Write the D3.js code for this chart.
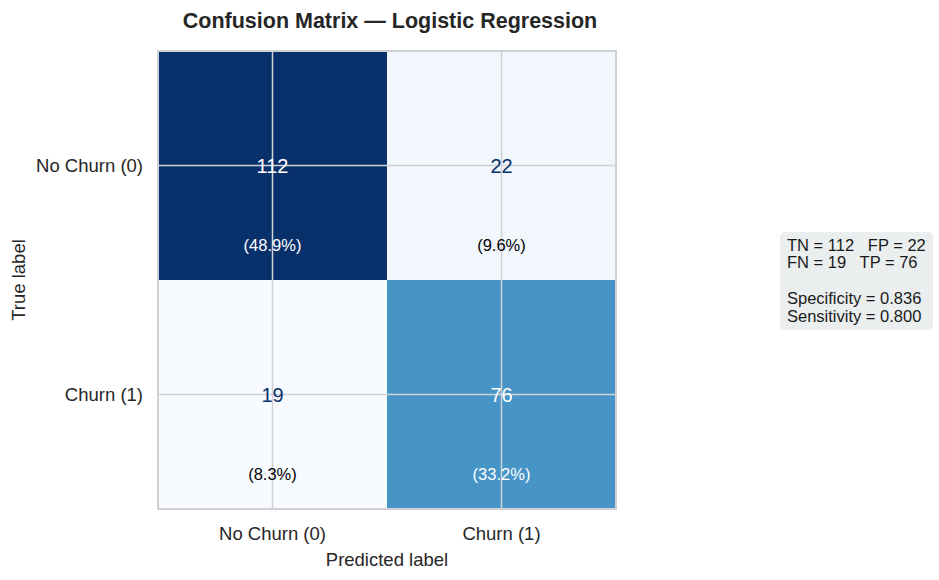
<!DOCTYPE html>
<html>
<head>
<meta charset="utf-8">
<script src="https://cdn.jsdelivr.net/npm/d3@7"></script>
<style>
  body { margin: 0; background: #fff; }
  svg { font-family: "Liberation Sans", Arial, sans-serif; }
</style>
</head>
<body>
<svg width="939" height="580"></svg>
<script>
// confusion matrix data
const classLabels = ["No Churn (0)", "Churn (1)"];
const counts = [
  [112, 22],
  [19, 76]
];
const percents = [
  ["48.9%", "9.6%"],
  ["8.3%", "33.2%"]
];
const statLines = [
  "TN = 112   FP = 22",
  "FN = 19   TP = 76",
  "",
  "Specificity = 0.836",
  "Sensitivity = 0.800"
];

const width = 939;
const height = 580;
const svg = d3.select("svg");

// plot area
const plotLeft = 158, plotTop = 51, size = 458;

const x = d3.scaleBand().domain([0, 1]).range([plotLeft, plotLeft + size]);
const y = d3.scaleBand().domain([0, 1]).range([plotTop, plotTop + size]);

const flat = [];
counts.forEach((row, i) => row.forEach((v, j) => flat.push({i, j, v, p: percents[i][j]})));

const vmin = d3.min(flat, d => d.v), vmax = d3.max(flat, d => d.v);
const color = d3.scaleSequential(d3.interpolateBlues).domain([vmin, vmax]);

// cells
svg.selectAll("rect.cell")
  .data(flat)
  .join("rect")
  .attr("class", "cell")
  .attr("x", d => x(d.j))
  .attr("y", d => y(d.i))
  .attr("width", x.bandwidth())
  .attr("height", y.bandwidth())
  .attr("fill", d => color(d.v));

// grid lines through cell centers (seaborn style)
const g = svg.append("g");
[0, 1].forEach(k => {
  g.append("line")
    .attr("x1", x(k) + x.bandwidth() / 2).attr("x2", x(k) + x.bandwidth() / 2)
    .attr("y1", plotTop).attr("y2", plotTop + size)
    .attr("stroke", "#cfd1d6").attr("stroke-width", 1.5);
  g.append("line")
    .attr("y1", y(k) + y.bandwidth() / 2).attr("y2", y(k) + y.bandwidth() / 2)
    .attr("x1", plotLeft).attr("x2", plotLeft + size)
    .attr("stroke", "#cfd1d6").attr("stroke-width", 1.5);
});

// frame
svg.append("rect")
  .attr("x", plotLeft).attr("y", plotTop)
  .attr("width", size).attr("height", size)
  .attr("fill", "none")
  .attr("stroke", "#cfd1d6")
  .attr("stroke-width", 2);

const thresh = (vmin + vmax) / 2;

// counts
svg.selectAll("text.count")
  .data(flat)
  .join("text")
  .attr("class", "count")
  .attr("x", d => x(d.j) + x.bandwidth() / 2)
  .attr("y", d => y(d.i) + y.bandwidth() / 2)
  .attr("dy", "0.35em")
  .attr("text-anchor", "middle")
  .attr("font-size", 20)
  .attr("fill", d => d.v > thresh - 10 ? "#ffffff" : "#08306b")
  .text(d => d.v);

// percentages
svg.selectAll("text.pct")
  .data(flat)
  .join("text")
  .attr("class", "pct")
  .attr("x", d => x(d.j) + x.bandwidth() / 2)
  .attr("y", d => y(d.i) + y.bandwidth() * 0.85)
  .attr("dy", "0.35em")
  .attr("text-anchor", "middle")
  .attr("font-size", 16.5)
  .attr("fill", d => d.v > thresh - 10 ? "#ffffff" : "#000000")
  .text(d => "(" + d.p + ")");

// tick labels
svg.selectAll("text.ylab")
  .data(classLabels)
  .join("text")
  .attr("class", "ylab")
  .attr("x", plotLeft - 15)
  .attr("y", (d, i) => y(i) + y.bandwidth() / 2)
  .attr("dy", "0.35em")
  .attr("text-anchor", "end")
  .attr("font-size", 18.5)
  .attr("fill", "#262626")
  .text(d => d);

svg.selectAll("text.xlab")
  .data(classLabels)
  .join("text")
  .attr("class", "xlab")
  .attr("x", (d, i) => x(i) + x.bandwidth() / 2)
  .attr("y", plotTop + size + 25)
  .attr("dy", "0.35em")
  .attr("text-anchor", "middle")
  .attr("font-size", 18.5)
  .attr("fill", "#262626")
  .text(d => d);

// axis titles
svg.append("text")
  .attr("x", plotLeft + size / 2)
  .attr("y", plotTop + size + 51)
  .attr("dy", "0.35em")
  .attr("text-anchor", "middle")
  .attr("font-size", 18.5)
  .attr("fill", "#262626")
  .text("Predicted label");

svg.append("text")
  .attr("transform", `translate(19,${plotTop + size / 2}) rotate(-90)`)
  .attr("dy", "0.35em")
  .attr("text-anchor", "middle")
  .attr("font-size", 18.5)
  .attr("fill", "#262626")
  .text("True label");

// title
svg.append("text")
  .attr("x", plotLeft + size / 2 + 3)
  .attr("y", 20)
  .attr("dy", "0.35em")
  .attr("text-anchor", "middle")
  .attr("font-size", 21.5)
  .attr("font-weight", "bold")
  .attr("fill", "#262626")
  .text("Confusion Matrix \u2014 Logistic Regression");

// stats box
const box = svg.append("g").attr("transform", "translate(780,232)");
box.append("rect")
  .attr("width", 153).attr("height", 98)
  .attr("rx", 5)
  .attr("fill", "#ebeeef");
box.selectAll("text")
  .data(statLines)
  .join("text")
  .attr("x", 7)
  .attr("y", (d, i) => 13 + i * 17.7)
  .attr("dy", "0.35em")
  .attr("font-size", 16.5)
  .attr("fill", "#1a1a1a")
  .style("white-space", "pre")
  .text(d => d);
</script>
</body>
</html>
